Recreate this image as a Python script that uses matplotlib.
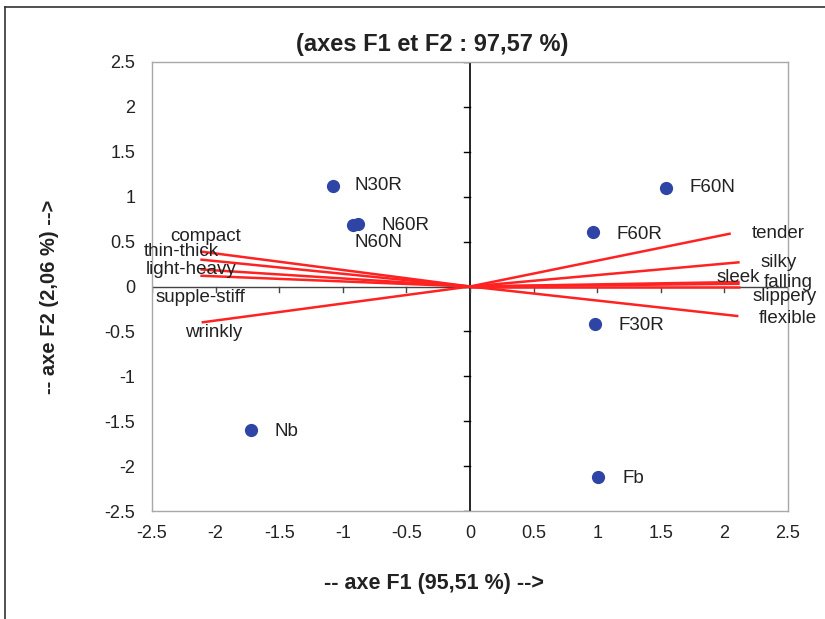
import matplotlib
matplotlib.use("Agg")
import matplotlib.pyplot as plt
from matplotlib.lines import Line2D

# Observations (F1, F2)
obs_names = ["N30R", "N60R", "N60N", "F60N", "F60R", "F30R", "Nb", "Fb"]
obs_f1 = [-1.08, -0.88, -0.92, 1.54, 0.97, 0.98, -1.72, 1.01]
obs_f2 = [1.12, 0.70, 0.69, 1.10, 0.61, -0.42, -1.60, -2.12]

# Variables (vector endpoints)
var_names = ["compact", "thin-thick", "light-heavy", "supple-stiff", "wrinkly",
             "tender", "silky", "sleek", "falling", "slippery", "flexible"]
var_f1 = [-2.12, -2.12, -2.12, -2.12, -2.11, 2.05, 2.12, 2.12, 2.12, 2.12, 2.11]
var_f2 = [0.39, 0.30, 0.19, 0.12, -0.40, 0.59, 0.27, 0.05, 0.03, 0.00, -0.33]

ticks = [-2.5, -2, -1.5, -1, -0.5, 0, 0.5, 1, 1.5, 2, 2.5]
tick_labels = ["-2.5", "-2", "-1.5", "-1", "-0.5", "0", "0.5", "1", "1.5", "2", "2.5"]

plt.rcParams['font.family'] = ['Liberation Sans', 'DejaVu Sans']

fig = plt.figure(figsize=(8.25, 6.19), dpi=100)
ax = fig.add_axes([152/825, 1-511/619, (788-152)/825, (511-62)/619])

ax.set_xlim(-2.5, 2.5)
ax.set_ylim(-2.5, 2.5)
for s in ax.spines.values():
    s.set_color("#a8a8a8")
    s.set_linewidth(1.0)
ax.set_xticks(ticks)
ax.set_xticklabels(tick_labels)
ax.set_yticks(ticks)
ax.set_yticklabels(tick_labels)
ax.tick_params(length=0, labelsize=13, colors="#222222")
ax.tick_params(axis="y", pad=12)
ax.tick_params(axis="x", pad=10)

# axes through origin
ax.axvline(0, color="black", lw=1.2, zorder=2)
ax.axhline(0, color="#444444", lw=1.0, zorder=2)
for t in ticks:
    ax.plot([t, t], [0, -0.06], color="#444444", lw=1.0, zorder=2)
    ax.plot([-0.045, 0], [t, t], color="black", lw=1.0, zorder=2)

# vectors
for x, y in zip(var_f1, var_f2):
    ax.plot([0, x], [0, y], color="#ff2222", lw=1.8, zorder=3, solid_capstyle="butt")

# observations
ax.plot(obs_f1, obs_f2, "o", color="#2f45a6", ms=8.5, zorder=4, clip_on=False)

obs_off = {
    "N30R": (16, 0),
    "N60R": (17, -1),
    "N60N": (1, -13),
    "F60N": (17, 0),
    "F60R": (17, -2),
    "F30R": (17, -1),
    "Nb": (17, -1),
    "Fb": (17, -1),
}
for n, x, y in zip(obs_names, obs_f1, obs_f2):
    dx, dy = obs_off[n]
    ax.annotate(n, (x, y), xytext=(dx, dy), textcoords="offset points",
                ha="left", va="center", fontsize=13.5, color="#222222", zorder=5)

var_off = {
    "compact": (-22, 11),
    "thin-thick": (-41, 6),
    "light-heavy": (-39, 0),
    "supple-stiff": (-32, -16),
    "wrinkly": (-12, -7),
    "tender": (15, 0),
    "silky": (15, 0),
    "sleek": (-17, 3),
    "falling": (17, 1),
    "slippery": (9, -7),
    "flexible": (15, -1.5),
}
for n, x, y in zip(var_names, var_f1, var_f2):
    dx, dy = var_off[n]
    ax.annotate(n, (x, y), xytext=(dx, dy), textcoords="offset points",
                ha="left", va="center", fontsize=13.5, color="#222222", zorder=5,
                annotation_clip=False)

fig.text(432/825, 1-45/619, "(axes F1 et F2 : 97,57 %)", ha="center", va="center",
         fontsize=17, fontweight="bold", color="#222222")
fig.text(434/825, 1-583/619, "-- axe F1 (95,51 %) -->", ha="center", va="center",
         fontsize=15.5, fontweight="bold", color="#222222")
fig.text(50/825, 1-297/619, "-- axe F2 (2,06 %) -->", ha="center", va="center",
         fontsize=14.5, fontweight="bold", color="#222222", rotation=90)

# outer frame (left and top)
fig.add_artist(Line2D([5/825, 5/825], [0, 1-7/619], color="#333333", lw=1.2,
                      transform=fig.transFigure))
fig.add_artist(Line2D([5/825, 1], [1-7/619, 1-7/619], color="#333333", lw=1.2,
                      transform=fig.transFigure))

fig.savefig("out.png", dpi=100)
